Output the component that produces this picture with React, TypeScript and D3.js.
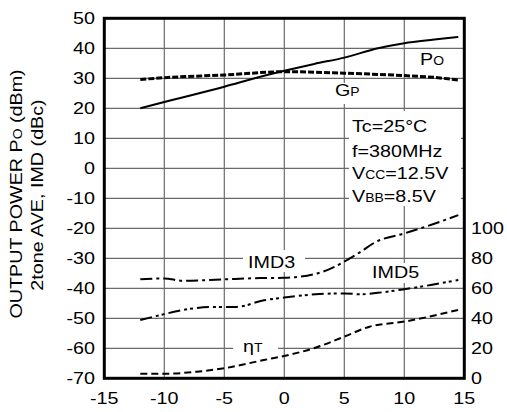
import React from 'react';
import * as d3 from 'd3';

const xTicks = [-15, -10, -5, 0, 5, 10, 15];
const yTicks = [50, 40, 30, 20, 10, 0, -10, -20, -30, -40, -50, -60, -70];
const etaTicks = [0, 20, 40, 60, 80, 100];

const poData: [number, number][] = [[-12, 20], [-10, 22.1], [-5, 27.2], [-2, 30.5], [0, 32.5], [2.5, 34.8], [5, 36.9], [7.8, 40], [10, 41.7], [12.5, 42.9], [14.5, 43.8]];
const gpData: [number, number][] = [[-12, 29.6], [-10, 30.2], [-5, 31.1], [0, 32.2], [5, 31.7], [10, 30.9], [12.5, 30.3], [14.5, 29.4]];
const imd3Data: [number, number][] = [[-12, -37], [-10, -36.7], [-8.5, -37.5], [-5, -37], [-2, -36.6], [0, -36.5], [2.5, -35.3], [4, -33.2], [5, -31.1], [6.3, -28], [7.6, -24.6], [10, -21.7], [12.5, -18.5], [14.5, -15.6]];
const imd5Data: [number, number][] = [[-12, -50.6], [-10, -48.6], [-8.4, -47.2], [-6, -46.2], [-4, -46.2], [-1.7, -44], [0, -43.1], [2.6, -42], [5, -41.7], [6.4, -42], [7.8, -41.5], [10, -40.3], [12.2, -38.9], [14.5, -37.2]];
const etaData: [number, number][] = [[-12, 3], [-10, 3], [-7.3, 4.4], [-5, 6.7], [-1.7, 12.2], [0, 14.9], [2.6, 20.4], [5, 27.8], [7.1, 34.4], [10, 37.8], [14.5, 45.6]];

const FONT = 'Liberation Sans, Arial, Helvetica, sans-serif';
const SX = 1.16;

function T({ x, y, anchor = 'start', size = 17, rot = false, children }: any) {
  return (
    <text
      transform={`translate(${x},${y})${rot ? ' rotate(-90)' : ''} scale(${SX},1)`}
      textAnchor={anchor}
      fontSize={size}
      fontFamily={FONT}
      fill="#000"
    >
      {children}
    </text>
  );
}

export default function App() {
  const x = d3.scaleLinear().domain([-15, 15]).range([104.3, 464.3]);
  const y = d3.scaleLinear().domain([-70, 50]).range([378.3, 18.3]);
  const yEta = d3.scaleLinear().domain([0, 100]).range([y(-70), y(-20)]);

  const line = d3.line<[number, number]>().x(d => x(d[0])).y(d => y(d[1])).curve(d3.curveMonotoneX);
  const lineEta = d3.line<[number, number]>().x(d => x(d[0])).y(d => yEta(d[1])).curve(d3.curveMonotoneX);

  const [x0, x1] = x.range();
  const [y0, y1] = [y(50), y(-70)];
  const small = 12;

  return (
    <svg width={507} height={412} style={{ position: 'absolute', left: 0, top: 0, background: '#fff' }}>
      <rect x={0} y={0} width={507} height={412} fill="#fff" />
      {/* grid */}
      <g stroke="#6a6a6a" strokeWidth={1.2}>
        {xTicks.map(t => <line key={'vx' + t} x1={x(t)} x2={x(t)} y1={y0} y2={y1} />)}
        {yTicks.map(t => <line key={'hy' + t} x1={x0} x2={x1} y1={y(t)} y2={y(t)} />)}
      </g>
      {/* label backgrounds */}
      <g fill="#fff">
        <rect x={333} y={83} width={29} height={21} />
        <rect x={349} y={111} width={112} height={95} />
        <rect x={243} y={250} width={62} height={22} />
        <rect x={368} y={263} width={54} height={20} />
        <rect x={233} y={339} width={45} height={17} />
      </g>
      {/* curves */}
      <g fill="none" stroke="#000" strokeLinecap="butt">
        <path d={line(poData) || ''} strokeWidth={2} />
        <path d={line(gpData) || ''} strokeWidth={3} strokeDasharray="6,2" />
        <path d={line(imd3Data) || ''} strokeWidth={2} strokeDasharray="12,4,3,4" />
        <path d={line(imd5Data) || ''} strokeWidth={2} strokeDasharray="12,4,3,3,3,4" />
        <path d={lineEta(etaData) || ''} strokeWidth={2} strokeDasharray="7,4" />
      </g>
      {/* frame */}
      <rect x={x0} y={y0} width={x1 - x0} height={y1 - y0} fill="none" stroke="#000" strokeWidth={3} />
      {/* tick labels */}
      {yTicks.map(t => <T key={'ly' + t} x={95} y={y(t) + 6} anchor="end">{t}</T>)}
      {xTicks.map(t => <T key={'lx' + t} x={x(t)} y={404} anchor="middle">{t}</T>)}
      {etaTicks.map(t => <T key={'le' + t} x={471} y={yEta(t) + 6}>{t}</T>)}
      {/* axis title */}
      <T x={22} y={194} anchor="middle" rot>
        OUTPUT POWER P<tspan fontSize={small}>O</tspan> (dBm)
      </T>
      <T x={43} y={195} anchor="middle" rot>2tone AVE, IMD (dBc)</T>
      {/* curve labels */}
      <T x={420} y={65}>P<tspan fontSize={small}>O</tspan></T>
      <T x={335} y={96}>G<tspan fontSize={small}>P</tspan></T>
      <T x={248} y={268}>IMD3</T>
      <T x={372} y={278}>IMD5</T>
      <T x={243} y={352}>η<tspan fontSize={small}>T</tspan></T>
      {/* conditions */}
      <T x={352} y={132}>Tc=25°C</T>
      <T x={352} y={157}>f=380MHz</T>
      <T x={352} y={179}>V<tspan fontSize={small}>CC</tspan>=12.5V</T>
      <T x={352} y={201.5}>V<tspan fontSize={small}>BB</tspan>=8.5V</T>
    </svg>
  );
}
